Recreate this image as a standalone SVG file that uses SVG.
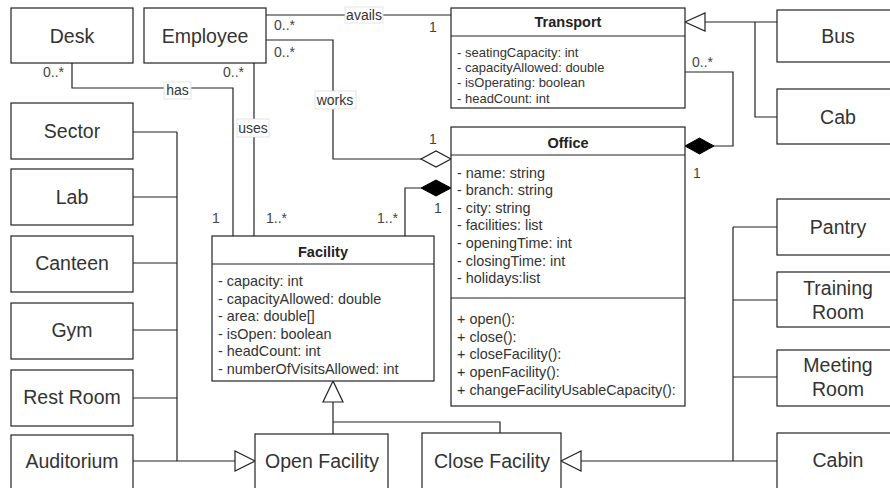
<svg xmlns="http://www.w3.org/2000/svg" width="890" height="488" viewBox="0 0 890 488">
<style>
.box{fill:#fff;stroke:#222;stroke-width:1.2}
.ln{fill:none;stroke:#222;stroke-width:1.2}
.lbl{font-family:"Liberation Sans",Arial,sans-serif;font-size:19.5px;fill:#333;text-anchor:middle;dominant-baseline:central}
.ttl{font-family:"Liberation Sans",Arial,sans-serif;font-size:14.5px;font-weight:bold;fill:#222;text-anchor:middle;dominant-baseline:central}
.at{font-family:"Liberation Sans",Arial,sans-serif;font-size:14.4px;fill:#333;dominant-baseline:central}
.at2{font-family:"Liberation Sans",Arial,sans-serif;font-size:13px;fill:#333;dominant-baseline:central}
.m{font-family:"Liberation Sans",Arial,sans-serif;font-size:14px;fill:#444;dominant-baseline:central}
.el{font-family:"Liberation Sans",Arial,sans-serif;font-size:14px;fill:#333;text-anchor:middle;dominant-baseline:central}
.elb{fill:#fff;stroke:#ddd;stroke-width:0.8}
.hol{fill:#fff;stroke:#222;stroke-width:1.2}
.fil{fill:#000;stroke:#000;stroke-width:1}
</style>
<g id="connectors">
<path class="ln" d="M266 15 H451"/>
<path class="ln" d="M266 40 H333 V159 H421"/>
<path class="ln" d="M72 63 V88 H233 V236"/>
<path class="ln" d="M254 63 V236"/>
<path class="ln" d="M405 236 V188 H421"/>
<path class="ln" d="M685 72 H733 V146 H714"/>
<path class="ln" d="M777 22 H705 M755 22 V117 H777"/>
<path class="ln" d="M333 434 V402 M500 433 V422 H333"/>
<path class="ln" d="M133 132 H177 M133 197 H177 M133 263 H177 M133 330 H177 M133 398 H177 M177 132 V461 M133 461 H235"/>
<path class="ln" d="M777 227 H733 M777 300 H733 M777 377 H733 M733 227 V461 M777 461 H581"/>
<polygon class="hol" points="685,22 705,13 705,31"/>
<polygon class="hol" points="333,381 323,402 343,402"/>
<polygon class="hol" points="255,461 235,451 235,471"/>
<polygon class="hol" points="561,461 581,451 581,471"/>
<polygon class="fil" points="685,146 699.5,138 714,146 699.5,154"/>
<polygon class="fil" points="451,188 436,180 421,188 436,196"/>
<polygon class="hol" points="451,159 436,151 421,159 436,167"/>
<rect class="elb" x="345" y="7" width="38" height="16"/>
<text class="el" x="364" y="15">avails</text>
<rect class="elb" x="315" y="91" width="41" height="18"/>
<text class="el" x="335" y="100">works</text>
<rect class="elb" x="164" y="82" width="27" height="17"/>
<text class="el" x="177.5" y="90">has</text>
<rect class="elb" x="237" y="119" width="32" height="18"/>
<text class="el" x="253" y="128">uses</text>
<text class="m" x="274" y="25">0..*</text>
<text class="m" x="429" y="27">1</text>
<text class="m" x="274" y="52">0..*</text>
<text class="m" x="429" y="139">1</text>
<text class="m" x="43" y="72">0..*</text>
<text class="m" x="223" y="72">0..*</text>
<text class="m" x="212" y="218">1</text>
<text class="m" x="266" y="218">1..*</text>
<text class="m" x="377" y="218">1..*</text>
<text class="m" x="434" y="208">1</text>
<text class="m" x="692" y="62">0..*</text>
<text class="m" x="693" y="173">1</text>
</g>
<g id="desk"><rect class="box" x="11" y="8" width="122" height="55"/><text class="lbl" x="72" y="36">Desk</text></g>
<g id="employee"><rect class="box" x="144" y="8" width="122" height="55"/><text class="lbl" x="205" y="36">Employee</text></g>
<g id="transport">
<rect class="box" x="451" y="8" width="234" height="100"/>
<line class="ln" x1="451" y1="36" x2="685" y2="36"/>
<text class="ttl" x="568" y="22">Transport</text>
<text class="at2" x="457" y="52">- seatingCapacity: int</text>
<text class="at2" x="457" y="67">- capacityAllowed: double</text>
<text class="at2" x="457" y="82">- isOperating: boolean</text>
<text class="at2" x="457" y="98">- headCount: int</text>
</g>
<g id="office">
<rect class="box" x="451" y="127" width="234" height="279"/>
<line class="ln" x1="451" y1="155" x2="685" y2="155"/>
<line class="ln" x1="451" y1="298" x2="685" y2="298"/>
<text class="ttl" x="568" y="143">Office</text>
<text class="at" x="457" y="173">- name: string</text>
<text class="at" x="457" y="190">- branch: string</text>
<text class="at" x="457" y="208">- city: string</text>
<text class="at" x="457" y="225">- facilities: list</text>
<text class="at" x="457" y="243">- openingTime: int</text>
<text class="at" x="457" y="261">- closingTime: int</text>
<text class="at" x="457" y="278">- holidays:list</text>
<text class="at" x="457" y="319">+ open():</text>
<text class="at" x="457" y="337">+ close():</text>
<text class="at" x="457" y="354">+ closeFacility():</text>
<text class="at" x="457" y="372">+ openFacility():</text>
<text class="at" x="457" y="390">+ changeFacilityUsableCapacity():</text>
</g>
<g id="facility">
<rect class="box" x="212" y="236" width="222" height="145"/>
<line class="ln" x1="212" y1="264" x2="434" y2="264"/>
<text class="ttl" x="323" y="252">Facility</text>
<text class="at" x="218" y="281">- capacity: int</text>
<text class="at" x="218" y="299">- capacityAllowed: double</text>
<text class="at" x="218" y="316">- area: double[]</text>
<text class="at" x="218" y="334">- isOpen: boolean</text>
<text class="at" x="218" y="351">- headCount: int</text>
<text class="at" x="218" y="369">- numberOfVisitsAllowed: int</text>
</g>
<g id="bus"><rect class="box" x="777" y="10" width="122" height="52"/><text class="lbl" x="838" y="36">Bus</text></g>
<g id="cab"><rect class="box" x="777" y="89" width="122" height="55"/><text class="lbl" x="838" y="117">Cab</text></g>
<g id="sector"><rect class="box" x="11" y="103" width="122" height="56"/><text class="lbl" x="72" y="131">Sector</text></g>
<g id="lab"><rect class="box" x="11" y="169" width="122" height="56"/><text class="lbl" x="72" y="197">Lab</text></g>
<g id="canteen"><rect class="box" x="11" y="236" width="122" height="56"/><text class="lbl" x="72" y="263">Canteen</text></g>
<g id="gym"><rect class="box" x="11" y="303" width="122" height="56"/><text class="lbl" x="72" y="330">Gym</text></g>
<g id="restroom"><rect class="box" x="11" y="370" width="122" height="56"/><text class="lbl" x="72" y="397">Rest Room</text></g>
<g id="auditorium"><rect class="box" x="11" y="435" width="122" height="60"/><text class="lbl" x="72" y="461">Auditorium</text></g>
<g id="openfacility"><rect class="box" x="255" y="434" width="133" height="60"/><text class="lbl" x="322" y="461">Open Facility</text></g>
<g id="closefacility"><rect class="box" x="422" y="433" width="139" height="60"/><text class="lbl" x="492" y="461">Close Facility</text></g>
<g id="pantry"><rect class="box" x="777" y="199" width="122" height="56"/><text class="lbl" x="838" y="227">Pantry</text></g>
<g id="trainingroom"><rect class="box" x="777" y="272" width="122" height="55"/><text class="lbl" x="838" y="288">Training</text><text class="lbl" x="838" y="312">Room</text></g>
<g id="meetingroom"><rect class="box" x="777" y="350" width="122" height="56"/><text class="lbl" x="838" y="365">Meeting</text><text class="lbl" x="838" y="389">Room</text></g>
<g id="cabin"><rect class="box" x="777" y="433" width="122" height="60"/><text class="lbl" x="838" y="460">Cabin</text></g>
</svg>
